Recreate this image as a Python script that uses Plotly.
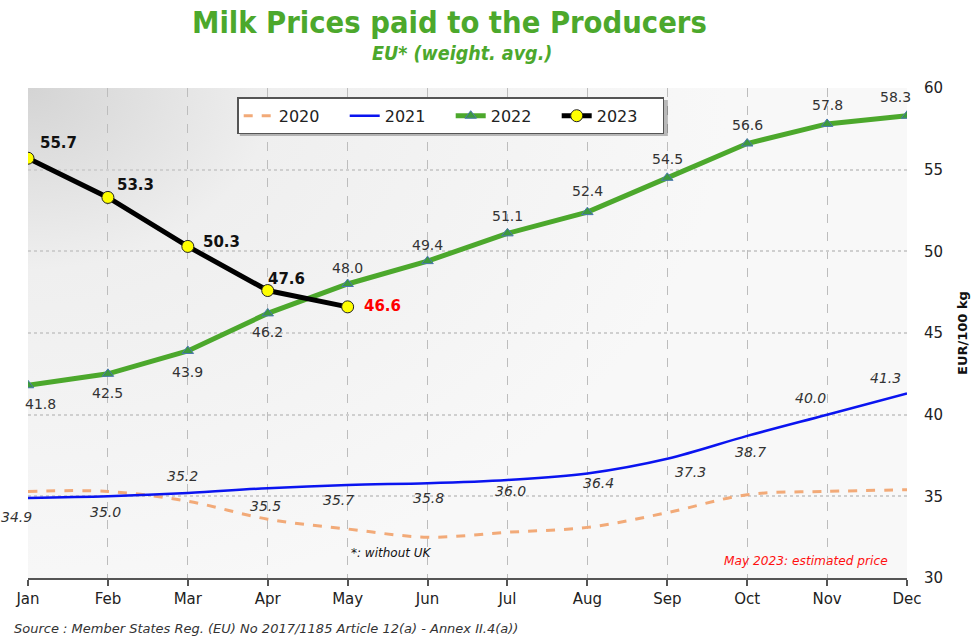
import base64
import plotly.graph_objects as go

months = ["Jan", "Feb", "Mar", "Apr", "May", "Jun", "Jul", "Aug", "Sep", "Oct", "Nov", "Dec"]
prices_2020 = [35.3, 35.3, 34.7, 33.6, 33.0, 32.5, 32.8, 33.1, 34.0, 35.1, 35.3, 35.4]
prices_2021 = [34.9, 35.0, 35.2, 35.5, 35.7, 35.8, 36.0, 36.4, 37.3, 38.7, 40.0, 41.3]
prices_2022 = [41.8, 42.5, 43.9, 46.2, 48.0, 49.4, 51.1, 52.4, 54.5, 56.6, 57.8, 58.3]
prices_2023 = [55.7, 53.3, 50.3, 47.6, 46.6]
y_ticks = [30, 35, 40, 45, 50, 55, 60]

FONT = "DejaVu Sans"
GREEN = "#4ca82c"

# label offsets (styling, in pixels)
off_2021 = [(-12, -19), (-2, -16), (-5, 17), (-2, -18), (-9, -15), (1, -15), (3, -11), (11, -10), (23, -13), (3, -16), (-17, 17), (-22, 15)]
off_2022 = [(12, -19), (0, -19), (0, -21), (0, -19), (0, 16), (0, 16), (0, 17), (0, 21), (0, 19), (0, 19), (0, 19), (-12, 19)]
off_2023 = [(10, 15), (7, 12), (13, 4), (-2, 12), (14, 1)]

fig = go.Figure()

fig.add_trace(go.Scatter(x=months, y=prices_2020, name="2020", mode="lines",
                         line=dict(color="#f2aa78", width=3, dash="dash", shape="spline", smoothing=1.0),
                         hoverinfo="skip"))
fig.add_trace(go.Scatter(x=months, y=prices_2021, name="2021", mode="lines",
                         line=dict(color="#0a14f0", width=2.5, shape="spline", smoothing=1.0),
                         hoverinfo="skip"))
fig.add_trace(go.Scatter(x=months, y=prices_2022, name="2022", mode="lines+markers",
                         line=dict(color=GREEN, width=5),
                         marker=dict(symbol="triangle-up", size=10, color="#3d9a3d",
                                     line=dict(color="#4a78b0", width=1)),
                         hoverinfo="skip"))
fig.add_trace(go.Scatter(x=months[:len(prices_2023)], y=prices_2023, name="2023", mode="lines+markers",
                         line=dict(color="black", width=5),
                         marker=dict(symbol="circle", size=12, color="#ffff00",
                                     line=dict(color="#222", width=1)),
                         hoverinfo="skip"))

ann = []
for m, v, (dx, dy) in zip(months, prices_2021, off_2021):
    ann.append(dict(x=m, y=v, text=f"{v:.1f}", showarrow=False, xshift=dx, yshift=dy,
                    font=dict(family=FONT, size=14, color="#333", style="italic")))
for m, v, (dx, dy) in zip(months, prices_2022, off_2022):
    ann.append(dict(x=m, y=v, text=f"{v:.1f}", showarrow=False, xshift=dx, yshift=dy,
                    font=dict(family=FONT, size=14, color="#333")))
for i, (m, v, (dx, dy)) in enumerate(zip(months, prices_2023, off_2023)):
    last = i == len(prices_2023) - 1
    ann.append(dict(x=m, y=v, text=f"<b>{v:.1f}</b>", showarrow=False, xanchor="left",
                    xshift=dx, yshift=dy,
                    font=dict(family=FONT, size=15, color="#ff0000" if last else "#111")))

ann += [
    dict(xref="paper", yref="paper", x=0.48, y=1.1327, yanchor="middle",
         text="<b>Milk Prices paid to the Producers</b>",
         showarrow=False, font=dict(family="DejaVu Sans Condensed", size=30.6, color=GREEN)),
    dict(xref="paper", yref="paper", x=0.494, y=1.0694, yanchor="middle",
         text="<b><i>EU* (weight. avg.)</i></b>",
         showarrow=False, font=dict(family="DejaVu Sans Condensed", size=19.5, color=GREEN)),
    dict(xref="paper", yref="paper", x=-0.018, y=-0.122, xanchor="left",
         text="<i>Source : Member States Reg. (EU) No 2017/1185 Article 12(a) - Annex II.4(a))</i>",
         showarrow=False, font=dict(family=FONT, size=13, color="#333")),
    dict(xref="paper", yref="paper", x=0.365, y=0.032, xanchor="left",
         text="<i>*: without UK</i>", showarrow=False, font=dict(family=FONT, size=12, color="#111")),
    dict(xref="paper", yref="paper", x=0.789, y=0.016, xanchor="left",
         text="<i>May 2023: estimated price</i>", showarrow=False,
         font=dict(family=FONT, size=12.2, color="#ff1010")),
]

svg = """<svg xmlns='http://www.w3.org/2000/svg' width='879' height='490' viewBox='0 0 879 490' preserveAspectRatio='none'>
<defs><radialGradient id='g' cx='0' cy='0' r='1' gradientUnits='userSpaceOnUse' gradientTransform='scale(700 520)'>
<stop offset='0' stop-color='#d4d4d4'/><stop offset='0.35' stop-color='#efefef'/><stop offset='1' stop-color='#f8f8f8'/>
</radialGradient></defs><rect width='879' height='490' fill='url(#g)'/></svg>"""
src = "data:image/svg+xml;base64," + base64.b64encode(svg.encode()).decode()

fig.update_layout(
    width=973, height=639,
    margin=dict(l=28, r=66, t=88, b=61),
    paper_bgcolor="white", plot_bgcolor="rgba(0,0,0,0)",
    font=dict(family=FONT, color="#222"),
    showlegend=True,
    legend=dict(orientation="h", x=0.238, xanchor="left", y=0.981, yanchor="top",
                bgcolor="white", bordercolor="#555", borderwidth=1.5,
                font=dict(family=FONT, size=16, color="#222"),
                entrywidth=61, entrywidthmode="pixels", tracegroupgap=0),
    images=[dict(source=src, xref="paper", yref="paper", x=0, y=1, sizex=1, sizey=1,
                 sizing="stretch", xanchor="left", yanchor="top", layer="below")],
    annotations=ann,
    shapes=[dict(type="rect", xref="paper", yref="paper", x0=0.241, x1=0.728, y0=0.902, y1=0.9755,
                 line=dict(width=0), fillcolor="rgba(0,0,0,0.25)", layer="above")],
    hovermode=False,
)
fig.update_xaxes(range=[0, 11], showgrid=True, gridcolor="#bdbdbd", griddash="dash", gridwidth=1,
                 showline=True, linecolor="#555", linewidth=2, ticks="outside", ticklen=6,
                 tickcolor="#555", tickwidth=2, automargin=False,
                 tickfont=dict(family=FONT, size=15, color="#222"), zeroline=False, fixedrange=True)
fig.update_yaxes(range=[30, 60], side="right", tickvals=y_ticks, showgrid=True, gridcolor="#cfcfcf",
                 griddash="dot", gridwidth=1.5, zeroline=False, showline=False, ticks="",
                 ticklabelstandoff=16, automargin=False,
                 tickfont=dict(family=FONT, size=15, color="#222"),
                 title=dict(text="<b>EUR/100 kg</b>", font=dict(family=FONT, size=13, color="#111"), standoff=15),
                 fixedrange=True)

fig.write_html("out.html", post_script="document.body.style.margin='0';",
               config={"displayModeBar": False})
